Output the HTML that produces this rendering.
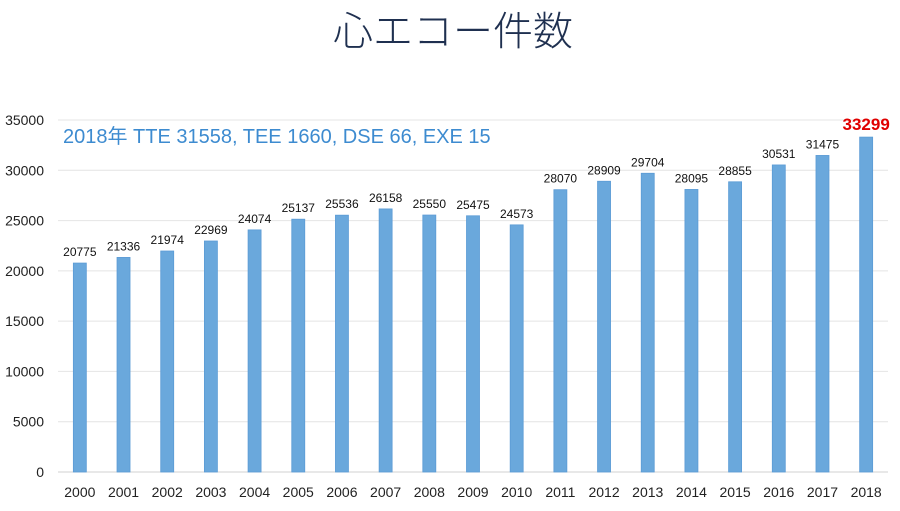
<!DOCTYPE html>
<html><head><meta charset="utf-8"><style>
body{margin:0;background:#fff;width:900px;height:506px;overflow:hidden;font-family:"Liberation Sans","Noto Sans CJK JP",sans-serif}
</style></head><body>
<svg width="900" height="506">
<text x="453" y="45" text-anchor="middle" font-size="40" font-weight="300" fill="#1f3050" font-family="Noto Sans CJK JP, sans-serif">心エコー件数</text>
<text x="63" y="143" font-size="20" fill="#3d8bd0">2018年 TTE 31558, TEE 1660, DSE 66, EXE 15</text>
</svg>
<script>
const years=["2000","2001","2002","2003","2004","2005","2006","2007","2008","2009","2010","2011","2012","2013","2014","2015","2016","2017","2018"];
const counts=[20775,21336,21974,22969,24074,25137,25536,26158,25550,25475,24573,28070,28909,29704,28095,28855,30531,31475,33299];
const yTicks=[0,5000,10000,15000,20000,25000,30000,35000];
const NS="http://www.w3.org/2000/svg";
const x0=58,x1=888,yb=472,yt=120,ymax=35000;
const bw=(x1-x0)/years.length;
const Y=v=>yb-(v/ymax)*(yb-yt);
const X=i=>x0+bw*(i+0.5);
const svg=document.querySelector('svg');
function mk(t,a,txt){const e=document.createElementNS(NS,t);for(const k in a)e.setAttribute(k,a[k]);if(txt!==undefined)e.textContent=txt;svg.appendChild(e);return e;}
yTicks.forEach(v=>{
 const l=mk('line',{x1:x0,x2:x1,y1:Y(v),y2:Y(v),stroke:v===0?'#d0d0d0':'#e4e4e4','stroke-width':1});
 
 
 const t=mk('text',{x:44,y:Y(v)+5,'text-anchor':'end','font-size':14,fill:'#222'},String(v));
 
 
});
counts.forEach((v,i)=>{
 const r=mk('rect',{x:X(i)-6.5,y:Y(v),width:13,height:yb-Y(v),fill:'#6aa8dc',stroke:'#5b9bd5','stroke-width':0.8});
 
 
 const last=i===counts.length-1;
 const t=mk('text',{x:X(i),y:Y(v)-7,'text-anchor':'middle','font-size':last?17:12,'font-weight':last?'bold':'normal',fill:last?'#e00000':'#111'},String(v));
 
 
 const xl=mk('text',{x:X(i),y:497,'text-anchor':'middle','font-size':14,fill:'#222'},years[i]);
 
 
});
</script>
</body></html>
